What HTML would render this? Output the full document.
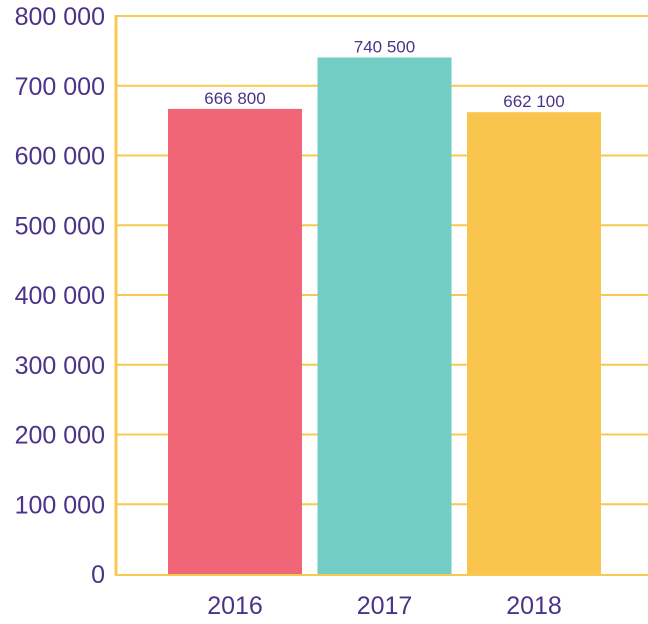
<!DOCTYPE html>
<html><head><meta charset="utf-8"><style>
html,body{margin:0;padding:0;background:#fff;width:648px;height:624px;overflow:hidden}
text{font-family:"Liberation Sans",sans-serif;fill:#4a3489}
</style></head><body>
<svg id="chart" width="648" height="624" xmlns="http://www.w3.org/2000/svg"></svg>
<script>
const categories=["2016","2017","2018"];
const values=[666800,740500,662100];
const valueLabels=["666 800","740 500","662 100"];
const ticks=[0,100000,200000,300000,400000,500000,600000,700000,800000];
const tickLabels=["0","100 000","200 000","300 000","400 000","500 000","600 000","700 000","800 000"];
const colors=["#f06677","#72cdc4","#f9c54c"];
const svg=document.getElementById('chart');
const NS="http://www.w3.org/2000/svg";
const y0=574,y1=16,vmax=800000;
function y(v){return y0-(v/vmax)*(y0-y1);}
const bx0=168,step=149.5,bw=134;
function x(i){return bx0+i*step;}
function mk(t,a){const e=document.createElementNS(NS,t);for(const k in a)e.setAttribute(k,a[k]);svg.appendChild(e);return e;}
ticks.forEach((t,i)=>{
  if(t>0){const g=mk('line',{x1:116,x2:648,y1:y(t),y2:y(t),stroke:'#f7c94f','stroke-width':2});
  
  }
  const l=mk('text',{x:105,y:y(t)+9,'text-anchor':'end','font-size':25});
  l.textContent=tickLabels[i];
  
  
});
categories.forEach((c,i)=>{
  const r=mk('rect',{x:x(i),y:y(values[i]),width:bw,height:y0-y(values[i]),fill:colors[i]});
  
  
  const v=mk('text',{x:x(i)+bw/2,y:y(values[i])-5,'text-anchor':'middle','font-size':17});
  v.textContent=valueLabels[i];
  
  
  const xl=mk('text',{x:x(i)+bw/2,y:614,'text-anchor':'middle','font-size':25});
  xl.textContent=c;
  
  
});
const ax=mk('line',{x1:116,x2:116,y1:15,y2:575,stroke:'#f7c94f','stroke-width':3});


const bx=mk('line',{x1:115,x2:648,y1:575,y2:575,stroke:'#f7c94f','stroke-width':2});


</script>
</body></html>
